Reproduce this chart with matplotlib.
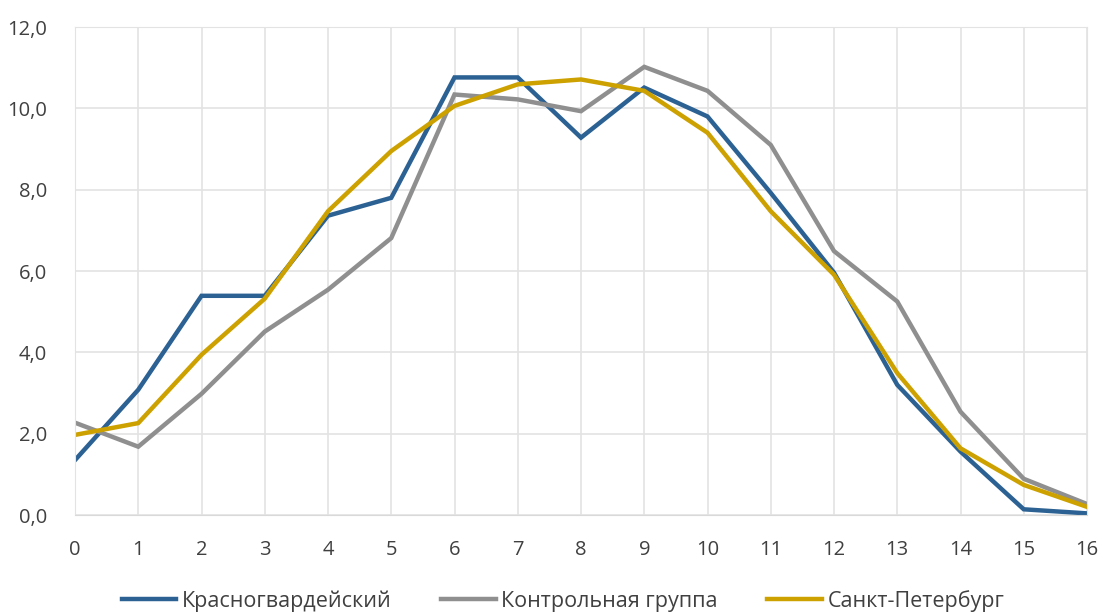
import numpy as np
import matplotlib.pyplot as plt
from matplotlib.ticker import FuncFormatter

plt.rcParams['font.family'] = ['Open Sans', 'DejaVu Sans']

x = np.arange(0, 17)

krasnogvard = [1.35, 3.08, 5.39, 5.39, 7.36, 7.80, 10.76, 10.76, 9.28, 10.51,
               9.80, 7.92, 5.96, 3.20, 1.56, 0.14, 0.04]
kontrol = [2.27, 1.68, 2.98, 4.51, 5.54, 6.81, 10.34, 10.22, 9.93, 11.02,
           10.43, 9.10, 6.49, 5.25, 2.54, 0.89, 0.27]
spb = [1.97, 2.26, 3.94, 5.32, 7.47, 8.95, 10.06, 10.59, 10.71, 10.43,
       9.40, 7.47, 5.91, 3.49, 1.64, 0.74, 0.20]

names = ["Красногвардейский", "Контрольная группа", "Санкт-Петербург"]
colors = ["#2B6193", "#8F8F8F", "#CCA100"]

fig = plt.figure(figsize=(11.03, 6.12), dpi=100)
ax = fig.add_axes([75 / 1103, 97 / 612, 1012 / 1103, 488 / 612])

for ys, name, c in zip([krasnogvard, kontrol, spb], names, colors):
    ax.plot(x, ys, color=c, lw=3.2, label=name, solid_joinstyle='miter')

ax.set_xlim(0, 16)
ax.set_ylim(0, 12)
ax.set_xticks(x)
ax.set_yticks(np.arange(0, 12.1, 2))
ax.yaxis.set_major_formatter(FuncFormatter(lambda v, p: f"{v:.1f}".replace(".", ",")))

ax.grid(True, color="#E3E3E3", lw=1.2)
ax.set_axisbelow(True)
for side in ["top", "right", "left"]:
    ax.spines[side].set_color("#E3E3E3")
ax.spines["bottom"].set_color("#D9D9D9")
ax.tick_params(length=0, labelsize=14.5, colors="#404040")
ax.tick_params(axis="x", pad=18)
ax.tick_params(axis="y", pad=20)

fig.legend(loc="center", bbox_to_anchor=(563 / 1103, 11 / 612), ncol=3, frameon=False,
           fontsize=15.5, handlelength=2.55, handletextpad=0.25, columnspacing=2.3,
           labelcolor="#404040")

fig.savefig("out.png", dpi=100)
